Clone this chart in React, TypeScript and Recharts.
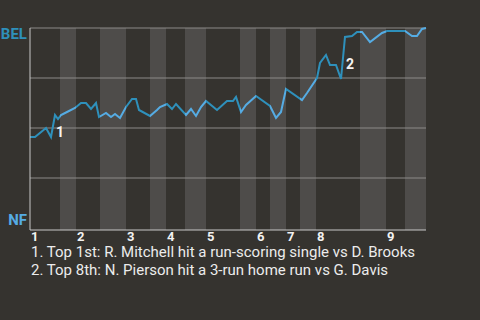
import React from "react";
import {
  ComposedChart,
  Line,
  XAxis,
  YAxis,
  ReferenceArea,
  ReferenceLine,
  ReferenceDot,
} from "recharts";

// play number (x) and Belmont win probability in % (y)
const plays = [
  0, 2.5, 8, 10.5, 12.5, 14, 15.5, 18.5, 22.5, 25.5, 28, 30.5, 33, 34.5, 38, 40.5, 42.5, 45, 48,
  51, 53, 54.5, 60, 63.5, 65, 68.5, 71, 73, 78, 80.5, 83, 85.5, 88, 93.5, 98.5, 101.5, 103, 105.5,
  108, 113, 120, 123, 125.5, 128, 136, 138.5, 143.5, 145, 148, 150, 153, 155.5, 157.5, 161, 163.5,
  166, 170, 176, 178.5, 187.5, 191, 193.5, 196, 198,
];
const belWinProb = [
  45.5, 45.5, 50, 45.5, 56.5, 54.5, 56.5, 58, 60, 62.5, 62.5, 59.5, 62.5, 55.5, 57.5, 55.5, 57, 55,
  60.5, 64.5, 64.5, 59, 56, 59, 60.5, 62, 59.5, 62, 56.5, 59.5, 56, 60.5, 63.5, 59, 63.5, 63.5, 65.5,
  58, 61.5, 66, 61, 55, 58, 69.5, 64, 67.5, 75, 82.5, 86.5, 81.5, 81.5, 74.5, 95.5, 96, 98, 98, 93,
  97.5, 98.5, 98.5, 96, 96, 99.5, 100,
];

const inningLabels = ["1", "2", "3", "4", "5", "6", "7", "8", "9"];
const inningStarts = [0, 23, 48, 68, 88, 113, 128, 143, 178];
const bottomStarts = [15, 35, 60, 77.5, 105, 120, 135, 165, 187.5];
const lastPlay = 198;

// index of the play that finishes each annotated swing
const noteIdx = [4, 52];
const notes = [
  "1. Top 1st: R. Mitchell hit a run-scoring single vs D. Brooks",
  "2. Top 8th: N. Pierson hit a 3-run home run vs G. Davis",
];

const teamTop = "BEL";
const teamBottom = "NF";

const BG = "#35332f";
const BAND = "#4e4c4a";
const GRID = "#8c8a88";
const AXIS = "#c8c8c8";
const TOP_COLOR = "#2e90bb";
const BOTTOM_COLOR = "#55ace4";

const data = plays.map((p, i) => ({ play: p, wp: belWinProb[i] }));

// colour changes every half inning
const stops: { offset: number; color: string }[] = [];
inningStarts.forEach((s, i) => {
  const mid = bottomStarts[i];
  const end = i + 1 < inningStarts.length ? inningStarts[i + 1] : lastPlay;
  stops.push({ offset: s / lastPlay, color: TOP_COLOR });
  stops.push({ offset: mid / lastPlay, color: TOP_COLOR });
  stops.push({ offset: mid / lastPlay, color: BOTTOM_COLOR });
  stops.push({ offset: end / lastPlay, color: BOTTOM_COLOR });
});

const XTick = (props: any) => {
  const { x, y, payload } = props;
  const idx = inningStarts.indexOf(payload.value);
  return (
    <text x={x + 1} y={y + 11} textAnchor="start" fill="#f2f2f2" fontSize={13} fontWeight="bold">
      {inningLabels[idx]}
    </text>
  );
};

const YTick = (props: any) => {
  const { x, y, payload } = props;
  const isTop = payload.value === 100;
  return (
    <text
      x={x}
      y={isTop ? y + 11 : y - 3}
      textAnchor="end"
      fill={isTop ? TOP_COLOR : BOTTOM_COLOR}
      fontSize={15}
      fontWeight="bold"
    >
      {isTop ? teamTop : teamBottom}
    </text>
  );
};

export default function App() {
  return (
    <div
      style={{
        position: "absolute",
        left: 0,
        top: 0,
        width: 480,
        height: 320,
        background: BG,
        fontFamily: "Roboto, sans-serif",
        overflow: "hidden",
      }}
    >
      <ComposedChart
        width={480}
        height={250}
        data={data}
        margin={{ top: 28, right: 54, bottom: 0, left: 0 }}
        style={{ fontFamily: "Roboto, sans-serif" }}
      >
        <defs>
          <linearGradient id="wpStroke" x1="0" y1="0" x2="1" y2="0">
            {stops.map((s, i) => (
              <stop key={i} offset={s.offset} stopColor={s.color} />
            ))}
          </linearGradient>
        </defs>
        <XAxis
          dataKey="play"
          type="number"
          domain={[0, lastPlay]}
          ticks={inningStarts}
          interval={0}
          height={20}
          tickSize={0}
          tickMargin={0}
          tickLine={false}
          axisLine={{ stroke: AXIS, strokeWidth: 1 }}
          tick={<XTick />}
        />
        <YAxis
          type="number"
          domain={[-1, 100]}
          ticks={[0, 100]}
          width={30}
          tickSize={0}
          tickMargin={3}
          tickLine={false}
          axisLine={{ stroke: AXIS, strokeWidth: 1 }}
          tick={<YTick />}
        />
        {bottomStarts.map((b, i) => (
          <ReferenceArea
            key={"band" + i}
            x1={b}
            x2={i + 1 < inningStarts.length ? inningStarts[i + 1] : lastPlay}
            y1={-1}
            y2={100}
            fill={BAND}
            fillOpacity={1}
            stroke="none"
            ifOverflow="visible"
          />
        ))}
        {[25, 50, 75, 100].map((v) => (
          <ReferenceLine key={"g" + v} y={v} stroke={GRID} strokeWidth={1} />
        ))}
        <Line
          type="linear"
          dataKey="wp"
          stroke="url(#wpStroke)"
          strokeWidth={2}
          dot={false}
          activeDot={false}
          isAnimationActive={false}
        />
        {noteIdx.map((ni, k) => (
          <ReferenceDot
            key={"n" + k}
            x={(plays[ni - 1] + plays[ni]) / 2}
            y={(belWinProb[ni - 1] + belWinProb[ni]) / 2}
            r={0}
            ifOverflow="visible"
            shape={(p: any) => (
              <text
                x={p.cx + 3}
                y={p.cy + 11}
                fill="#f4f4f4"
                fontSize={14}
                fontWeight="bold"
                textAnchor="start"
              >
                {k + 1}
              </text>
            )}
          />
        ))}
      </ComposedChart>
      <div
        style={{
          position: "absolute",
          left: 31,
          top: 243,
          color: "#ececec",
          fontSize: 15,
          lineHeight: "18px",
          whiteSpace: "nowrap",
        }}
      >
        {notes.map((n, i) => (
          <div key={i}>{n}</div>
        ))}
      </div>
    </div>
  );
}
